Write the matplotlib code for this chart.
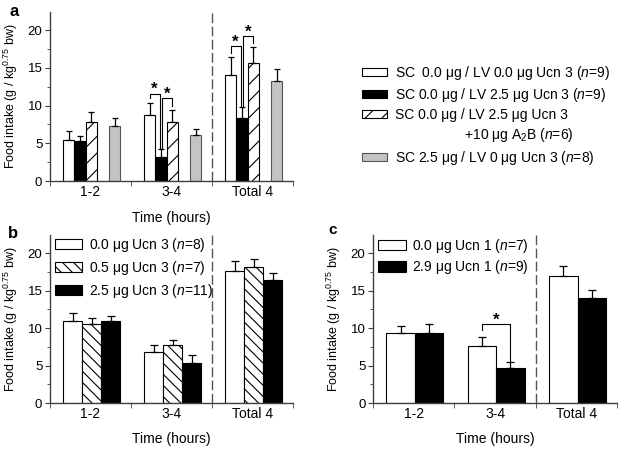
import matplotlib.pyplot as plt
from matplotlib.patches import Patch
from matplotlib.ticker import MultipleLocator

plt.rcParams['font.family'] = ['Liberation Sans', 'DejaVu Sans']
plt.rcParams['mathtext.fontset'] = 'custom'
plt.rcParams['mathtext.rm'] = 'Liberation Sans'
plt.rcParams['mathtext.it'] = 'Liberation Sans:italic'
plt.rcParams['mathtext.bf'] = 'Liberation Sans:bold'
plt.rcParams['hatch.linewidth'] = 0.8

time_labels = ['1-2', '3-4', 'Total 4']

# panel a: SC / LV Ucn 3
a_veh = [5.5, 8.7, 14.1]
a_veh_err = [1.15, 1.7, 2.3]
a_lv = [5.3, 3.2, 8.4]
a_lv_err = [0.65, 1.1, 1.4]
a_lv_a2b = [7.8, 7.8, 15.6]
a_lv_a2b_err = [1.4, 1.6, 2.1]
a_sc = [7.3, 6.1, 13.3]
a_sc_err = [1.0, 0.8, 1.5]

# panel b: Ucn 3 doses
b_00 = [10.9, 6.75, 17.55]
b_00_err = [1.1, 1.05, 1.35]
b_05 = [10.5, 7.7, 18.2]
b_05_err = [0.85, 0.75, 1.0]
b_25 = [10.9, 5.4, 16.45]
b_25_err = [0.65, 1.05, 0.95]

# panel c: Ucn 1
c_00 = [9.4, 7.55, 16.9]
c_00_err = [0.9, 1.25, 1.4]
c_29 = [9.4, 4.67, 14.0]
c_29_err = [1.1, 0.75, 1.1]

ylabel = 'Food intake (g / kg$^{0.75}$ bw)'
AX_COLOR = '#404040'

white = dict(facecolor='white', edgecolor='black', linewidth=0.8)
black = dict(facecolor='black', edgecolor='black', linewidth=0.8)
hatch_a = dict(facecolor='white', edgecolor='black', linewidth=0.8, hatch='//')
hatch_b = dict(facecolor='white', edgecolor='black', linewidth=0.8, hatch='\\\\\\')
gray = dict(facecolor='#c4c4c4', edgecolor='#555555', linewidth=0.8)


def style_axes(ax):
    ax.set_xlim(-0.5, 2.5)
    ax.set_ylim(0, 22.4)
    for side in ['top', 'right']:
        ax.spines[side].set_visible(False)
    for side in ['left', 'bottom']:
        ax.spines[side].set_color(AX_COLOR)
        ax.spines[side].set_linewidth(1.0)
    ax.set_xticks(range(len(time_labels)))
    ax.set_xticklabels(time_labels)
    ax.set_xticks([-0.5, 0.5, 1.5, 2.5], minor=True)
    ax.tick_params(axis='x', which='major', length=0, pad=3, labelsize=10)
    ax.tick_params(axis='x', which='minor', length=3.5, color=AX_COLOR)
    ax.set_yticks([0, 5, 10, 15, 20])
    ax.yaxis.set_minor_locator(MultipleLocator(2.5))
    ax.tick_params(axis='y', which='major', length=3.5, pad=2, labelsize=9.5, color=AX_COLOR)
    ax.tick_params(axis='y', which='minor', length=2, color=AX_COLOR)
    ax.axvline(1.5, color='#555555', lw=1.0, linestyle=(0, (7, 2.5)), zorder=0)
    ax.set_ylabel(ylabel, fontsize=9)
    ax.yaxis.set_label_coords(-0.125, 0.5)
    ax.set_xlabel('Time (hours)', fontsize=10)
    ax.xaxis.set_label_coords(0.5, -0.175)


def draw_bars(ax, offset, width, means, errs, style, capsize):
    x = [i + offset for i in range(len(means))]
    ax.bar(x, means, width, yerr=[[0] * len(errs), errs], capsize=capsize,
           error_kw=dict(elinewidth=0.9, capthick=0.9, ecolor='black'), **style)


def bracket(ax, x1, x2, y, y1, y2):
    ax.plot([x1, x1, x2, x2], [y1, y, y, y2], color='black', lw=0.8)
    ax.text((x1 + x2) / 2, y - 0.1, '*', ha='center', va='baseline',
            fontsize=12, fontweight='bold')


fig = plt.figure(figsize=(6.24, 4.54), dpi=100)
ax_a = fig.add_axes([0.0801, 0.6013, 0.3894, 0.3722])
ax_b = fig.add_axes([0.0801, 0.1123, 0.3894, 0.3700])
ax_c = fig.add_axes([0.5978, 0.1123, 0.3910, 0.3700])

# --- a ---
wa = 0.14
offs_a = [-0.27, -0.13, 0.01, 0.30]
draw_bars(ax_a, offs_a[0], wa, a_veh, a_veh_err, white, 2.5)
draw_bars(ax_a, offs_a[1], wa, a_lv, a_lv_err, black, 2.5)
draw_bars(ax_a, offs_a[2], wa, a_lv_a2b, a_lv_a2b_err, hatch_a, 2.5)
draw_bars(ax_a, offs_a[3], wa, a_sc, a_sc_err, gray, 2.5)
style_axes(ax_a)

for i, (h1, h2) in zip([1, 2], [(11.6, 11.0), (17.9, 19.2)]):
    top_veh = a_veh[i] + a_veh_err[i]
    top_lv = a_lv[i] + a_lv_err[i]
    top_a2b = a_lv_a2b[i] + a_lv_a2b_err[i]
    bracket(ax_a, i + offs_a[0], i + offs_a[1] - 0.015, h1, top_veh + 0.6, top_lv)
    bracket(ax_a, i + offs_a[1] + 0.015, i + offs_a[2], h2, top_lv, top_a2b + 0.6)

a_handles = [Patch(**white), Patch(**black), Patch(**hatch_a),
             Patch(facecolor='none', edgecolor='none'), Patch(**gray)]
a_names = ['SC  0.0 \u03bcg / LV 0.0 \u03bcg Ucn 3 ($n$=9)',
           'SC 0.0 \u03bcg / LV 2.5 \u03bcg Ucn 3 ($n$=9)',
           'SC 0.0 \u03bcg / LV 2.5 \u03bcg Ucn 3',
           ' ' * 18 + '+10 \u03bcg A$_2$B ($n$=6)',
           'SC 2.5 \u03bcg / LV 0 \u03bcg Ucn 3 ($n$=8)']
ax_a.legend(a_handles, a_names, loc='upper left', bbox_to_anchor=(362 / 624, 1 - 64 / 454),
            bbox_transform=fig.transFigure, frameon=False, fontsize=10, borderpad=0,
            borderaxespad=0, handlelength=1.8, handleheight=0.5, handletextpad=0.6,
            labelspacing=0.3)

# --- b ---
wb = 0.235
offs_b = [-0.22, 0.015, 0.25]
draw_bars(ax_b, offs_b[0], wb, b_00, b_00_err, white, 3.2)
draw_bars(ax_b, offs_b[1], wb, b_05, b_05_err, hatch_b, 3.2)
draw_bars(ax_b, offs_b[2], wb, b_25, b_25_err, black, 3.2)
style_axes(ax_b)
ax_b.legend([Patch(**white), Patch(**hatch_b), Patch(**black)],
            ['0.0 \u03bcg Ucn 3 ($n$=8)', '0.5 \u03bcg Ucn 3 ($n$=7)', '2.5 \u03bcg Ucn 3 ($n$=11)'],
            loc='upper left', bbox_to_anchor=(0.02, 0.995), frameon=False, fontsize=10,
            borderpad=0, borderaxespad=0, handlelength=1.95, handleheight=0.75,
            handletextpad=0.5, labelspacing=0.35)

# --- c ---
wc = 0.35
offs_c = [-0.16, 0.19]
draw_bars(ax_c, offs_c[0], wc, c_00, c_00_err, white, 3.2)
draw_bars(ax_c, offs_c[1], wc, c_29, c_29_err, black, 3.2)
style_axes(ax_c)
bracket(ax_c, 1 + offs_c[0], 1 + offs_c[1], 10.5, c_00[1] + c_00_err[1] + 0.9, c_29[1] + c_29_err[1])
ax_c.legend([Patch(**white), Patch(**black)],
            ['0.0 \u03bcg Ucn 1 ($n$=7)', '2.9 \u03bcg Ucn 1 ($n$=9)'],
            loc='upper left', bbox_to_anchor=(0.02, 0.99), frameon=False, fontsize=10,
            borderpad=0, borderaxespad=0, handlelength=2.0, handleheight=0.8,
            handletextpad=0.45, labelspacing=0.25)

fig.text(14 / 624, 1 - 12 / 454, 'a', fontsize=12, fontweight='bold', ha='center', va='center')
fig.text(13 / 624, 1 - 234 / 454, 'b', fontsize=12, fontweight='bold', ha='center', va='center')
fig.text(333 / 624, 1 - 230 / 454, 'c', fontsize=11, fontweight='bold', ha='center', va='center')

fig.savefig('out.png', dpi=100)
